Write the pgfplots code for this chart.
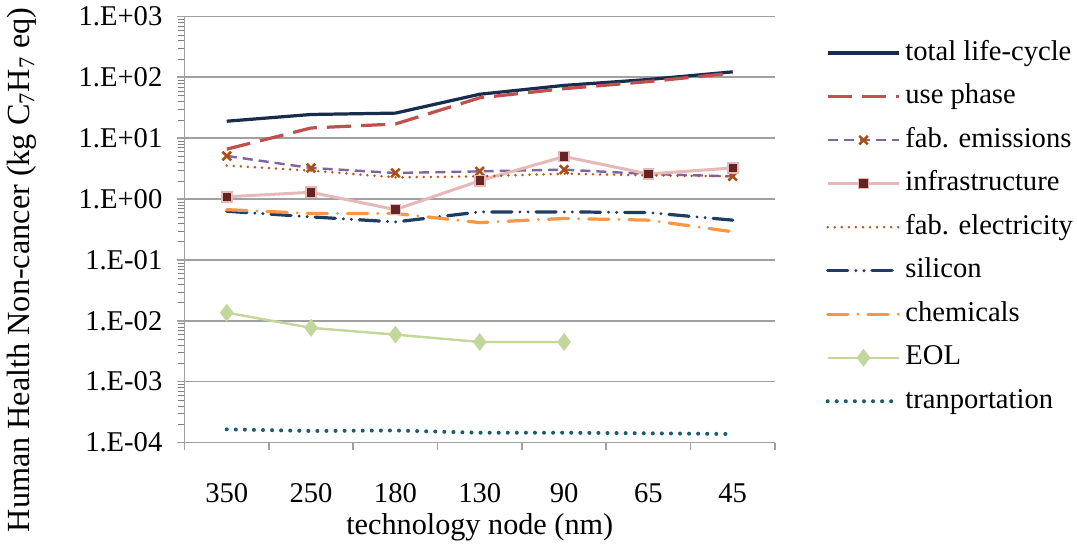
\documentclass[border=0pt]{standalone}
\usepackage{pgfplots}
\pgfplotsset{compat=1.18}
\usepackage{fontspec}
\setmainfont{Liberation Serif}

\definecolor{cTotal}{RGB}{24,45,78}
\definecolor{cUse}{RGB}{192,80,77}
\definecolor{cEmisLine}{RGB}{128,100,162}
\definecolor{cEmisMark}{RGB}{170,80,20}
\definecolor{cInfraLine}{RGB}{230,185,184}
\definecolor{cInfraMark}{RGB}{99,37,35}
\definecolor{cElec}{RGB}{180,90,30}
\definecolor{cSil}{RGB}{31,60,100}
\definecolor{cChem}{RGB}{247,150,70}
\definecolor{cEOL}{RGB}{195,214,155}
\definecolor{cTrans}{RGB}{30,90,110}
\definecolor{cAxis}{RGB}{160,160,160}

\begin{document}
\begin{tikzpicture}
\begin{axis}[
  scale only axis,
  width=293pt, height=211.5pt,
  font=\fontsize{14.2}{17}\selectfont,
  ymode=log,
  ymin=1e-4, ymax=1e3,
  xmin=-0.5, xmax=6.5,
  axis x line=bottom, axis y line=left,
  axis line style={-, draw=cAxis, line width=0.8pt},
  xtick={0,...,6},
  xticklabels={350,250,180,130,90,65,45},
  minor xtick={-0.5,0.5,...,6.5},
  major x tick style={draw=none},
  minor x tick style={draw=cAxis, line width=0.8pt},
  ytick={1e-4,1e-3,1e-2,1e-1,1,1e1,1e2,1e3},
  yticklabels={1.E-04,1.E-03,1.E-02,1.E-01,1.E+00,1.E+01,1.E+02,1.E+03},
  major y tick style={draw=cAxis, line width=0.8pt},
  tick align=outside,
  major tick length=4pt, minor tick length=3.5pt,
  ymajorgrids=true,
  major grid style={draw=cAxis, line width=0.8pt},
  xticklabel style={yshift=-13pt},
  yticklabel style={xshift=-3.5pt},
  xlabel={technology node (nm)},
  ylabel={Human Health Non-cancer (kg C\textsubscript{7}H\textsubscript{7} eq)},
  xlabel style={at={(axis description cs:0.5,0)}, anchor=center, yshift=-42pt,
    font=\fontsize{15}{18}\selectfont},
  ylabel style={at={(axis description cs:0,0.5)}, anchor=center, yshift=81pt, xshift=-20pt,
    font=\fontsize{16}{19}\selectfont},
  legend style={draw=none, fill=none, at={(1,1)}, anchor=north west, xshift=25pt, yshift=-9.5pt,
    inner sep=0pt, row sep=4.6pt, font=\fontsize{14.2}{17}\selectfont,
    nodes={text height=10pt, text depth=3pt, inner sep=2pt}},
  legend cell align=left,
  legend image code/.code={\draw[mark repeat=2,mark phase=2,#1] plot coordinates {(0cm,0cm)(0.625cm,0cm)(1.25cm,0cm)};},
]
\addplot[cTotal, line width=1.6pt] coordinates {
  (0,19) (1,24.5) (2,25.8) (3,52.7) (4,73.6) (5,92) (6,123)};
\addlegendentry{total life-cycle}
\addplot[cUse, line width=1.6pt, dash pattern=on 12pt off 5pt] coordinates {
  (0,6.6) (1,14.7) (2,17.1) (3,46) (4,65) (5,85) (6,117)};
\addlegendentry{use phase}
\addplot[cEmisLine, line width=1.2pt, dash pattern=on 5pt off 3pt, mark=x, mark size=3pt,
  mark options={solid, draw=cEmisMark, line width=1.3pt}] coordinates {
  (0,5.1) (1,3.24) (2,2.68) (3,2.85) (4,3.04) (5,2.58) (6,2.36)};
\addlegendentry{fab. emissions}
\addplot[cInfraLine, line width=1.5pt, mark=square*, mark size=2.5pt,
  mark options={solid, draw=cInfraLine, fill=cInfraMark, line width=0.8pt}] coordinates {
  (0,1.09) (1,1.29) (2,0.67) (3,2.0) (4,5.0) (5,2.58) (6,3.24)};
\addlegendentry{infrastructure}
\addplot[cElec, line width=1.4pt, line cap=round, dash pattern=on 0pt off 3.5pt] coordinates {
  (0,3.55) (1,2.93) (2,2.27) (3,2.36) (4,2.61) (5,2.45) (6,2.36)};
\addlegendentry{fab. electricity}
\addplot[cSil, line width=1.6pt, line cap=round, dash pattern=on 10pt off 4pt on 0pt off 4pt on 0pt off 4pt] coordinates {
  (0,0.63) (1,0.51) (2,0.42) (3,0.615) (4,0.615) (5,0.6) (6,0.45)};
\addlegendentry{silicon}
\addplot[cChem, line width=1.6pt, line cap=round, dash pattern=on 10pt off 5pt on 0pt off 5pt] coordinates {
  (0,0.67) (1,0.58) (2,0.58) (3,0.41) (4,0.48) (5,0.45) (6,0.29)};
\addlegendentry{chemicals}
\addplot[cEOL, line width=1.2pt, mark=diamond*, mark size=3.5pt, mark options={solid, fill=cEOL}] coordinates {
  (0,0.0136) (1,0.00766) (2,0.00593) (3,0.00449) (4,0.00449)};
\addlegendentry{EOL}
\addplot[cTrans, line width=2pt, line cap=round, dash pattern=on 0pt off 4.5pt] coordinates {
  (0,1.65e-4) (1,1.55e-4) (2,1.58e-4) (3,1.45e-4) (4,1.45e-4) (5,1.42e-4) (6,1.38e-4)};
\addlegendentry{tranportation}
\end{axis}
\end{tikzpicture}
\end{document}
